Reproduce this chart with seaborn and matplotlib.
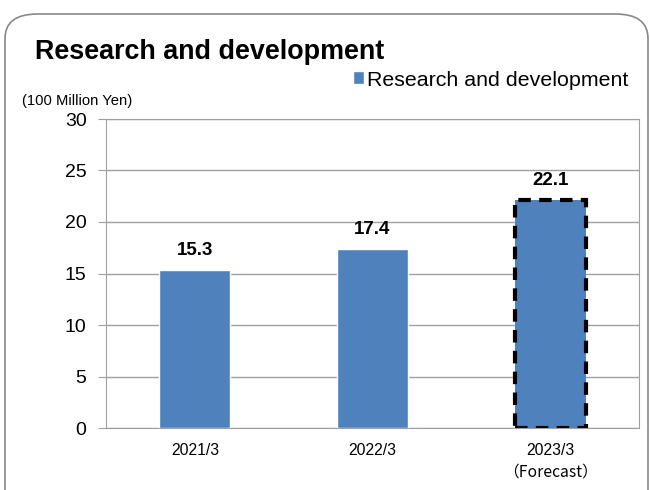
import pandas as pd
import matplotlib.pyplot as plt
import seaborn as sns
from matplotlib.patches import FancyBboxPatch

categories = ['2021/3', '2022/3', '2023/3']
values = [15.3, 17.4, 22.1]
yticks = [0, 5, 10, 15, 20, 25, 30]
forecast_note = '（Forecast）'
series_name = 'Research and development'
title = 'Research and development'
unit_label = '(100 Million Yen)'

sns.set_style('white')
plt.rcParams['font.family'] = ['Liberation Sans', 'Noto Sans CJK JP', 'DejaVu Sans']
plt.rcParams['text.color'] = 'black'
plt.rcParams['xtick.color'] = 'black'
plt.rcParams['ytick.color'] = 'black'

df = pd.DataFrame({'period': categories, 'value': values})

fig = plt.figure(figsize=(6.5, 4.9), dpi=100)
# rounded panel frame
frame = FancyBboxPatch((5 / 650, -0.05), 643 / 650, 1 - 14 / 490 + 0.05,
                       boxstyle='round,pad=0,rounding_size=0.05',
                       transform=fig.transFigure, fill=False,
                       edgecolor='#888888', linewidth=1.2)
fig.patches.append(frame)

ax = fig.add_axes([106 / 650, 1 - 428 / 490, (639 - 106) / 650, (428 - 119) / 490])
sns.barplot(data=df, x='period', y='value', color='#4f81bd', width=0.4,
            saturation=1, ax=ax, label=series_name)

# forecast bar gets dashed outline
ax.patches[2].set_edgecolor('black')
ax.patches[2].set_linestyle((0, (3, 2)))
ax.patches[2].set_linewidth(3)

for p, v in zip(ax.patches, values):
    ax.text(p.get_x() + p.get_width() / 2, v + 1.45, f'{v:.1f}',
            ha='center', va='baseline', fontsize=13.5, fontweight='bold')

ax.set_xlim(-0.5, 2.5)
ax.set_ylim(0, 30)
ax.set_yticks(yticks)
ax.yaxis.grid(True, color='#a0a0a0', linewidth=1)
ax.set_axisbelow(True)
for s in ax.spines.values():
    s.set_color('#a0a0a0')
ax.tick_params(axis='y', which='both', left=True, length=6, color='#a0a0a0',
               labelcolor='black', labelsize=14, pad=8)
ax.tick_params(axis='x', bottom=False, labelsize=11.3, pad=7, labelcolor='black')
ax.set_xlabel('')
ax.set_ylabel('')

ax.annotate(forecast_note, xy=(2, 0), xycoords=('data', 'axes fraction'),
            xytext=(0, -31.7), textcoords='offset points', ha='center',
            va='center', fontsize=11.3, family=['Noto Sans CJK JP'])

ax.legend(loc='center right', bbox_to_anchor=(628 / 650, 1 - 80 / 490),
          bbox_transform=fig.transFigure, frameon=False, fontsize=15.4,
          handlelength=0.56, handleheight=0.56, handletextpad=0.1,
          borderpad=0, borderaxespad=0)

fig.text(35 / 650, 1 - 52 / 490, title, fontsize=19.4,
         fontweight='bold', va='center', ha='left')
fig.text(22 / 650, 1 - 101 / 490, unit_label, fontsize=10.6,
         va='center', ha='left')

fig.savefig('out.png', dpi=100)
